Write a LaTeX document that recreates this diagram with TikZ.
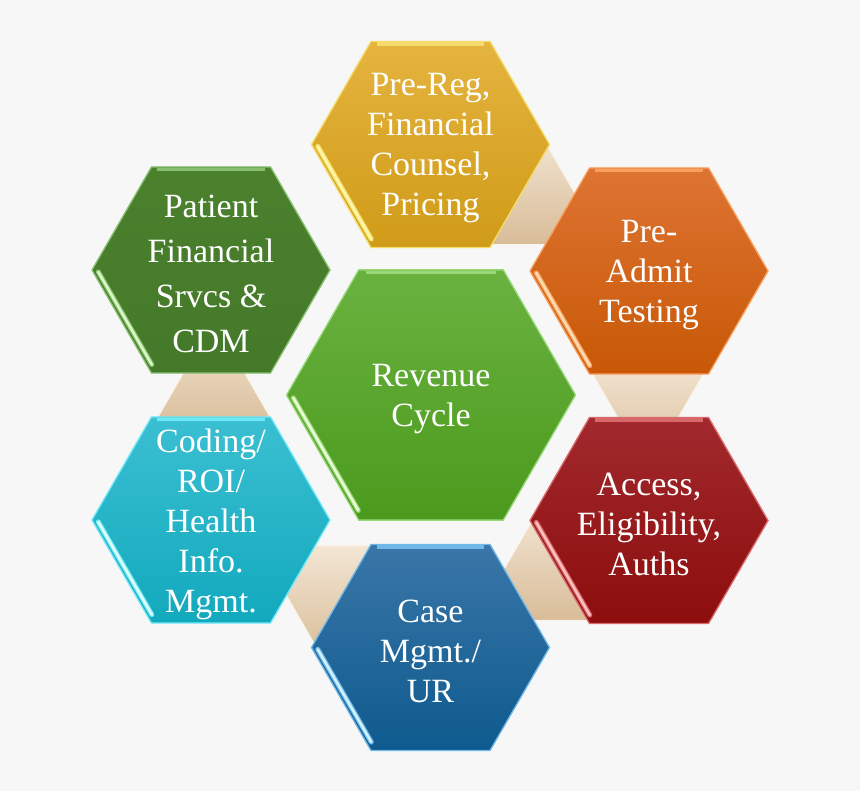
\documentclass[tikz,border=0pt]{standalone}
\usepackage{fontspec}
\setmainfont{Liberation Serif}
\usetikzlibrary{calc}
\definecolor{bg}{HTML}{F7F7F7}
\definecolor{tritop}{HTML}{F3E6D4}
\definecolor{tribot}{HTML}{D8BC98}
\definecolor{triedge}{HTML}{FBF4EA}
% center
\definecolor{cT}{HTML}{6AB240}\definecolor{cB}{HTML}{4B9A1D}\definecolor{cE}{HTML}{98D878}\definecolor{cH}{HTML}{EAFFD8}
% pre-reg
\definecolor{yT}{HTML}{E5B43F}\definecolor{yB}{HTML}{D09B18}\definecolor{yE}{HTML}{F5DC6A}\definecolor{yH}{HTML}{FFF8A8}
% pre-admit
\definecolor{oT}{HTML}{DE7433}\definecolor{oB}{HTML}{C85806}\definecolor{oE}{HTML}{F8A060}\definecolor{oH}{HTML}{FFDCB0}
% access
\definecolor{rT}{HTML}{A1292D}\definecolor{rB}{HTML}{8D0D0D}\definecolor{rE}{HTML}{D8686A}\definecolor{rH}{HTML}{FFC0C0}
% case
\definecolor{bT}{HTML}{3A76A8}\definecolor{bB}{HTML}{0E5A8E}\definecolor{bE}{HTML}{70B8E8}\definecolor{bH}{HTML}{D0F2FF}
% coding
\definecolor{kT}{HTML}{3BBFD2}\definecolor{kB}{HTML}{12A9BD}\definecolor{kE}{HTML}{70E8F8}\definecolor{kH}{HTML}{E0FFFF}
% patient
\definecolor{gT}{HTML}{4B812D}\definecolor{gB}{HTML}{437928}\definecolor{gE}{HTML}{88C070}\definecolor{gH}{HTML}{DDF8C8}
\newcommand\hexa[8]{%
 \coordinate (#1) at (#2,-#3);
 \coordinate (#1-R) at ($(#1)+(0:#4)$);
 \coordinate (#1-TR) at ($(#1)+(60:#4)$);
 \coordinate (#1-TL) at ($(#1)+(120:#4)$);
 \coordinate (#1-L) at ($(#1)+(180:#4)$);
 \coordinate (#1-BL) at ($(#1)+(240:#4)$);
 \coordinate (#1-BR) at ($(#1)+(300:#4)$);
 \shade[top color=#5,bottom color=#6] (#1-R)--(#1-TR)--(#1-TL)--(#1-L)--(#1-BL)--(#1-BR)--cycle;
 \draw[#7,line width=1.3pt,line join=miter] (#1-R)--(#1-TR)--(#1-TL)--(#1-L)--(#1-BL)--(#1-BR)--cycle;
 \draw[#7,line width=3.5pt] ($(#1-TL)!0.05!(#1-TR)+(0,-2.5)$) -- ($(#1-TL)!0.95!(#1-TR)+(0,-2.5)$);
 \draw[#7,line width=5pt,line cap=round] ($(#1-L)!0.04!(#1-BL)+(30:4.5)$) -- ($(#1-L)!0.94!(#1-BL)+(30:4.5)$);
 \draw[#8,line width=2.5pt,line cap=round] ($(#1-L)!0.04!(#1-BL)+(30:4.5)$) -- ($(#1-L)!0.94!(#1-BL)+(30:4.5)$);
}
\newcommand\tri[2]{%
 \coordinate (#1) at ($(rc)+(#2:217)$);
 \shadedraw[top color=tritop,bottom color=tribot,draw=triedge,line width=1pt]
   ($(#1)+({#2+30}:75)$) -- ($(#1)+({#2+150}:75)$) -- ($(#1)+({#2+270}:75)$) -- cycle;
}
\tikzset{
  txt/.style={text=white,align=center,inner sep=0pt,yshift=-4pt,font=\fontsize{34}{40}\selectfont},
  txtwide/.style={txt,font=\fontsize{34}{45}\selectfont}
}
\begin{document}
\begin{tikzpicture}[x=1pt,y=1pt]
\useasboundingbox (0,0) rectangle (860,-791);
\fill[bg] (0,0) rectangle (860,-791);
\coordinate (rc) at (431,-395);
% connectors
\tri{c1}{60}
\tri{c2}{0}
\tri{c3}{-60}
\tri{c4}{-120}
\tri{c5}{180}
% hexagons
\hexa{h1}{430.5}{144.5}{119}{yT}{yB}{yE}{yH}
\hexa{h2}{649}{271}{119}{oT}{oB}{oE}{oH}
\hexa{h3}{649}{520.5}{119}{rT}{rB}{rE}{rH}
\hexa{h4}{430.5}{647.5}{119}{bT}{bB}{bE}{bH}
\hexa{h5}{211}{520}{119}{kT}{kB}{kE}{kH}
\hexa{h6}{211}{270}{119}{gT}{gB}{gE}{gH}
\hexa{hc}{431}{395}{144.5}{cT}{cB}{cE}{cH}
% texts
\node[txt] (t1) at (h1) {Pre-Reg,\\Financial\\Counsel,\\Pricing};
\node[txt] (t2) at (h2) {Pre-\\Admit\\Testing};
\node[txt] (t3) at (h3) {Access,\\Eligibility,\\Auths};
\node[txt] (t4) at (h4) {Case\\Mgmt./\\UR};
\node[txt] (t5) at (h5) {Coding/\\ROI/\\Health\\Info.\\Mgmt.};
\node[txtwide] (t6) at (h6) {Patient\\Financial\\Srvcs \&\\CDM};
\node[txt] (tc) at (hc) {Revenue\\Cycle};
\end{tikzpicture}
\end{document}
